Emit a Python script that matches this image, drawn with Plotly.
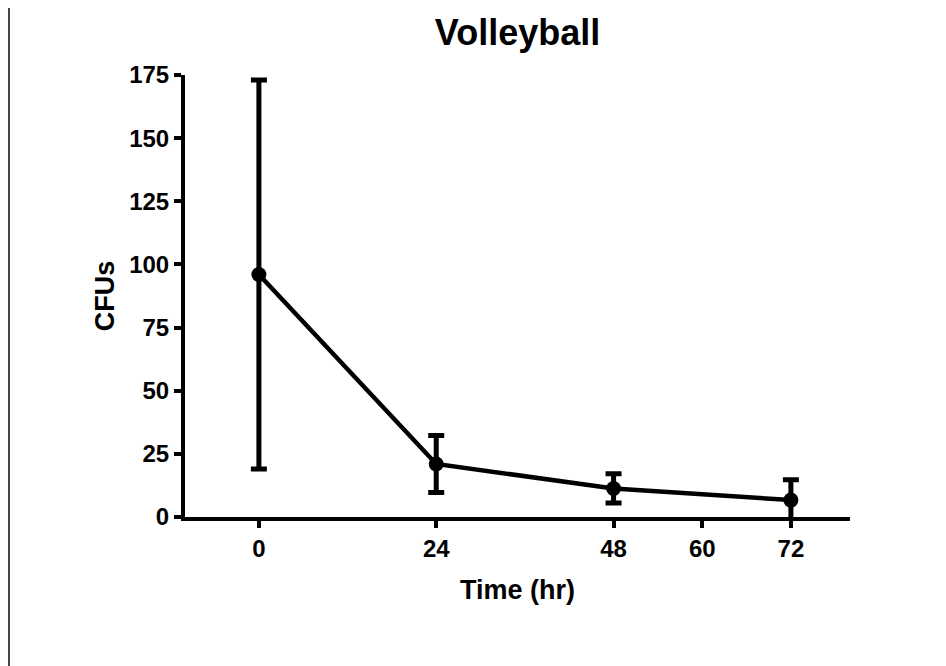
import plotly.graph_objects as go

time_hr = [0, 24, 48, 72]
cfu_mean = [96, 21, 11.3, 6.7]
cfu_err = [77, 11.3, 5.8, 8.0]
x_ticks = [0, 24, 48, 60, 72]
y_ticks = [0, 25, 50, 75, 100, 125, 150, 175]

FONT = "Liberation Sans, Arial, Helvetica, sans-serif"

fig = go.Figure()
fig.add_trace(go.Scatter(
    x=time_hr, y=cfu_mean,
    mode="lines+markers",
    line=dict(color="black", width=4.5),
    marker=dict(color="black", size=15),
    error_y=dict(type="data", array=cfu_err, visible=True,
                 color="black", thickness=5, width=8),
    cliponaxis=True,
    showlegend=False,
))

axis_common = dict(
    showline=True, linecolor="black", linewidth=4,
    ticks="outside", ticklen=7, tickwidth=4, tickcolor="black",
    showgrid=False, zeroline=False,
    tickfont=dict(family=FONT, size=24, color="black", weight="bold"),
)

W, H = 938, 658
fig.update_layout(
    width=W, height=H,
    paper_bgcolor="white", plot_bgcolor="white",
    margin=dict(l=177, r=96, t=67, b=149),
    title=dict(text="Volleyball", x=0.5, xref="paper", xanchor="center",
               y=1 - 24 / H, yref="container", yanchor="middle",
               font=dict(family=FONT, size=36, color="black", weight="bold")),
    xaxis=dict(range=[-10, 80], tickvals=x_ticks,
               ticktext=[str(v) for v in x_ticks],
               title=dict(text="Time (hr)", standoff=20,
                          font=dict(family=FONT, size=27, color="black", weight="bold")),
               **axis_common),
    yaxis=dict(range=[0, 175], tickvals=y_ticks,
               ticktext=[str(v) for v in y_ticks],
               title=dict(text="CFUs", standoff=8,
                          font=dict(family=FONT, size=27, color="black", weight="bold")),
               **axis_common),
    shapes=[dict(type="line", xref="paper", yref="paper",
                 x0=-0.2647, x1=-0.2647, y0=-0.4, y1=1.2,
                 line=dict(color="#444444", width=2))],
)

fig.write_html("out.html")
